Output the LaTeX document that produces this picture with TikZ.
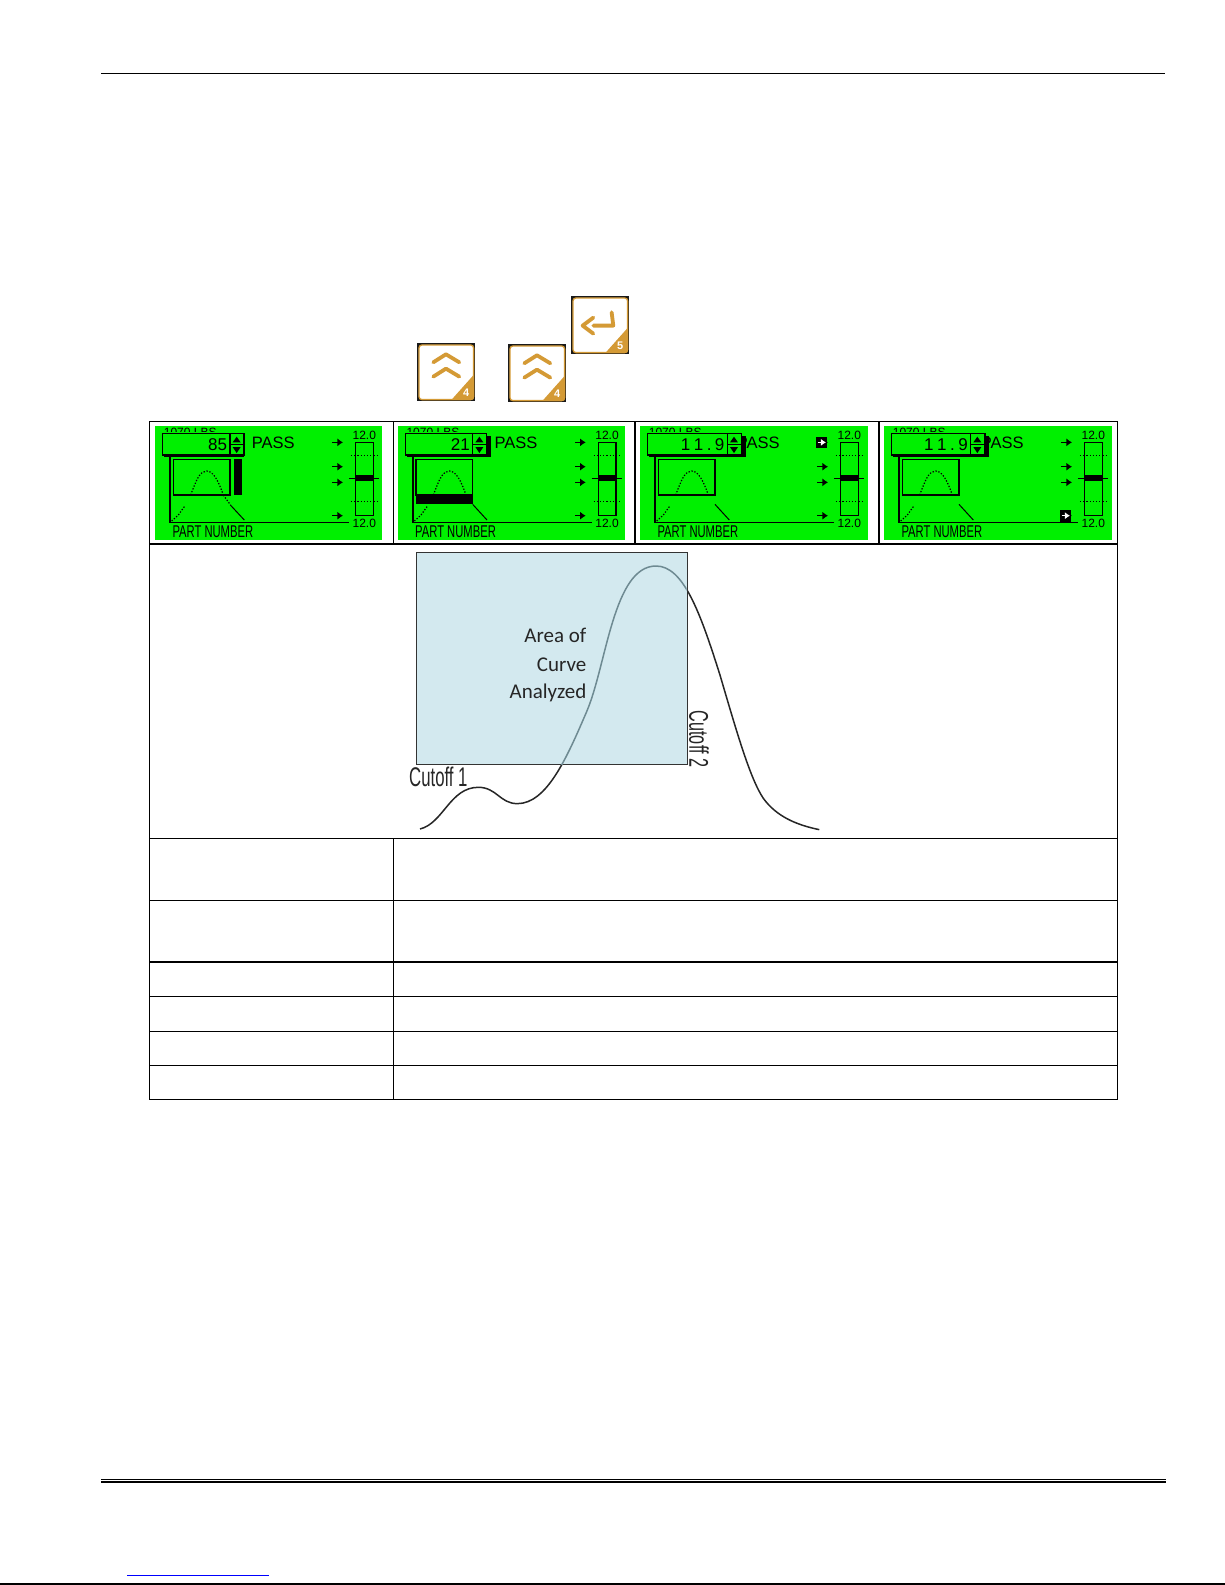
\documentclass[tikz,border=0pt]{standalone}
\usepackage{fontspec}
\setmainfont{Liberation Sans}
\newfontfamily\calibrilike{Carlito}
\usetikzlibrary{arrows.meta}
\definecolor{lcdgreen}{HTML}{00F000}
\definecolor{keyorange}{HTML}{D49A35}
\definecolor{areablue}{HTML}{D3E9EF}
\definecolor{curvegray}{HTML}{6E8A92}
\tikzset{
  rule/.style={line width=1.3pt,black},
  lcdline/.style={line width=1.6pt,black},
  lcdthin/.style={line width=1pt,black},
  lcddots/.style={line width=1.2pt,black,dash pattern=on 1.3pt off 1.7pt},
  lcdtext/.style={inner sep=0pt,font=\fontsize{16.5}{16.5}\selectfont},
  lcdsmall/.style={inner sep=0pt,font=\fontsize{12}{12}\selectfont},
  lcdarrow/.style={line width=1.5pt,black,-{Latex[length=5.5pt,width=8pt]}},
  keychev/.style={line width=3.8pt,keyorange,line cap=round,line join=round},
  cutofflabel/.style={inner sep=0pt,text=black!85,font=\fontsize{27}{27}\selectfont},
  areatext/.style={inner sep=0pt,anchor=east,text=black!85,font=\calibrilike\fontsize{21}{21}\selectfont},
  bell/.style={line width=1.5pt}
}
% origin x, width, prefix, value, box right, divider x, shadow right, extras (origin y fixed)
\newcommand{\lcdscreen}[8]{%
\begin{scope}[shift={(#1,425.7)},x=0.3333pt,y=-0.3333pt]
  \fill[lcdgreen] (0,0) rectangle (#2,344);
  \begin{scope}
    \clip (0,0) rectangle (#2,17);
    \node[lcdsmall,anchor=west] (#3top) at (26,21) {1070 LBS};
  \end{scope}
  \node[lcdtext,anchor=west] (#3pass) at (290,50) {PASS};
  \draw[lcdline] (45,88) -- (45,291) -- (582,291);
  \fill[black] (28,30) rectangle (#7,95);
  \filldraw[fill=lcdgreen,draw=black,line width=1.5pt] (23,24) rectangle (#5,88);
  \draw[line width=1.2pt] (#6,24) -- (#6,88) (#6,56) -- (#5,56);
  \fill (#6+20,33) -- (#6+8,50) -- (#6+32,50) -- cycle;
  \fill (#6+20,82) -- (#6+8,64) -- (#6+32,64) -- cycle;
  \node[lcdtext,anchor=east,font=\fontsize{17}{17}\selectfont] (#3val) at (#6-8,57) {#4};
  \draw[lcdline] (55,101) rectangle (225,208);
  \draw[lcddots] (50,286) -- (70,268) -- (90,240);
  \draw[lcddots] (107,208) .. controls (125,160) and (135,136) .. (155,136) .. controls (175,136) and (190,165) .. (205,208);
  \draw[lcdarrow] (532,50) -- (564,50);
  \draw[lcdarrow] (532,123) -- (564,123);
  \draw[lcdarrow] (532,170) -- (564,170);
  \draw[lcdarrow] (532,270) -- (564,270);
  \draw[lcdline] (602,50) rectangle (655,270);
  \draw[line width=1.2pt,dash pattern=on 1.2pt off 2pt] (588,90) -- (668,90) (588,228) -- (668,228);
  \fill (602,148) rectangle (655,166);
  \draw[lcdline] (582,158) -- (672,158);
  \node[lcdsmall] (#3hi) at (628,30) {12.0};
  \node[lcdsmall] (#3lo) at (628,293) {12.0};
  \node[inner sep=0pt,anchor=west] (#3part) at (52,318) {\fontsize{17}{17}\selectfont\scalebox{0.66}[1]{PART NUMBER}};
  #8
\end{scope}}
\newcommand{\thinslope}{\draw[lcdthin] (225,236) -- (268,283);}
\newcommand{\invarrow}[2]{%
  \fill (#1,#2) rectangle (#1+34,#2+35);
  \draw[line width=1.3pt,white,-{Latex[length=5pt,width=7pt]}] (#1+5,#2+17) -- (#1+30,#2+17);}
% key x, y, name, digit, glyph
\newcommand{\keyicon}[5]{%
\begin{scope}[shift={(#1,#2)},x=0.3333pt,y=-0.3333pt]
  \fill[black!90] (0,0) rectangle (174,174);
  \filldraw[fill=white,draw=keyorange,line width=1.3pt,rounded corners=3pt] (5,5) rectangle (169,169);
  \fill[keyorange,rounded corners=1pt] (169,95) -- (169,169) -- (103,169) -- cycle;
  \node[inner sep=0pt,text=white,font=\bfseries\fontsize{11}{11}\selectfont] (#3) at (147,148) {#4};
  #5
\end{scope}}
\newcommand{\chevrons}{\draw[keychev] (48,57) -- (86,33) -- (126,57) (48,100) -- (86,76) -- (126,100);}
\newcommand{\enterglyph}{\draw[keychev] (121,48) -- (126,88) -- (66,88) (66,64) -- (34,88) -- (66,112);}
\newcommand{\bellcurve}{(60,852) .. controls (130,835) and (150,727) .. (235,727) .. controls (290,727) and (300,776) .. (352,776) .. controls (440,776) and (500,640) .. (560,500) .. controls (620,360) and (640,63) .. (768,63) .. controls (850,63) and (900,200) .. (960,390) .. controls (1010,560) and (1050,700) .. (1090,760) .. controls (1130,815) and (1190,840) .. (1258,854)}
\newcommand{\valnine}{1\hspace{3.5pt}1\hspace{3.5pt}.\hspace{3.5pt}9}
\begin{document}
\begin{tikzpicture}[x=1pt,y=-1pt]
\useasboundingbox (0,0) rectangle (1225,1585);
\fill[white] (0,0) rectangle (1225,1585);
% page rules
\draw[rule] (101,73.3) -- (1165,73.3);
\draw[line width=1.2pt] (101,1479.3) -- (1166,1479.3);
\draw[line width=1.2pt] (101,1481.9) -- (1166,1481.9);
\draw[line width=1.2pt,blue] (127,1575.3) -- (269,1575.3);
\draw[line width=1.6pt] (0,1584.2) -- (1225,1584.2);
% key icons
\keyicon{417.3}{343.3}{keya}{4}{\chevrons}
\keyicon{508.3}{344.3}{keyb}{4}{\chevrons}
\keyicon{571.3}{296.3}{keyc}{5}{\enterglyph}
% table
\draw[rule] (149.5,421.5) rectangle (1117.3,1099.3);
\draw[rule] (149.5,544) -- (1117.3,544);
\draw[rule] (149.5,838.3) -- (1117.3,838.3);
\draw[rule] (149.5,900.3) -- (1117.3,900.3);
\draw[rule] (149.5,962) -- (1117.3,962);
\draw[rule] (149.5,996.3) -- (1117.3,996.3);
\draw[rule] (149.5,1031.3) -- (1117.3,1031.3);
\draw[rule] (149.5,1065.3) -- (1117.3,1065.3);
\draw[rule] (393.3,421.5) -- (393.3,544);
\draw[rule] (635,421.5) -- (635,544);
\draw[rule] (879,421.5) -- (879,544);
\draw[rule] (393.3,838.3) -- (393.3,1099.3);
% screens
\lcdscreen{155}{681}{a}{85}{267}{225}{267}{%
  \fill (238,101) rectangle (262,208);
  \draw[lcddots] (205,208) -- (228,240);
  \draw[lcdthin] (228,240) -- (268,283);}
\lcdscreen{397.7}{682}{b}{21}{267}{225}{280}{%
  \fill (55,205) rectangle (225,235);
  \thinslope}
\lcdscreen{640}{684}{c}{\valnine}{305}{262}{318}{%
  \thinslope
  \invarrow{528}{33}}
\lcdscreen{884}{684}{d}{\valnine}{303}{260}{316}{%
  \thinslope
  \invarrow{528}{253}}
% curve and analysed area
\begin{scope}[shift={(400,545)},x=0.3333pt,y=-0.3333pt]
  \draw[bell,black!85] \bellcurve;
  \filldraw[fill=areablue,draw=black!80,line width=1pt] (50,22) rectangle (862,660);
  \begin{scope}
    \clip (52,24) rectangle (860,658);
    \draw[bell,curvegray] \bellcurve;
  \end{scope}
\end{scope}
\node[areatext] (area1) at (586.5,635) {Area of};
\node[areatext] (area2) at (586.5,665) {Curve};
\node[areatext] (area3) at (586.5,693) {Analyzed};
\node[cutofflabel,anchor=west] (cut1) at (409,777) {\scalebox{0.62}[1]{Cutoff 1}};
\node[cutofflabel,rotate=-90] (cut2) at (699,739) {\scalebox{0.6}[1]{Cutoff 2}};
\end{tikzpicture}
\end{document}
